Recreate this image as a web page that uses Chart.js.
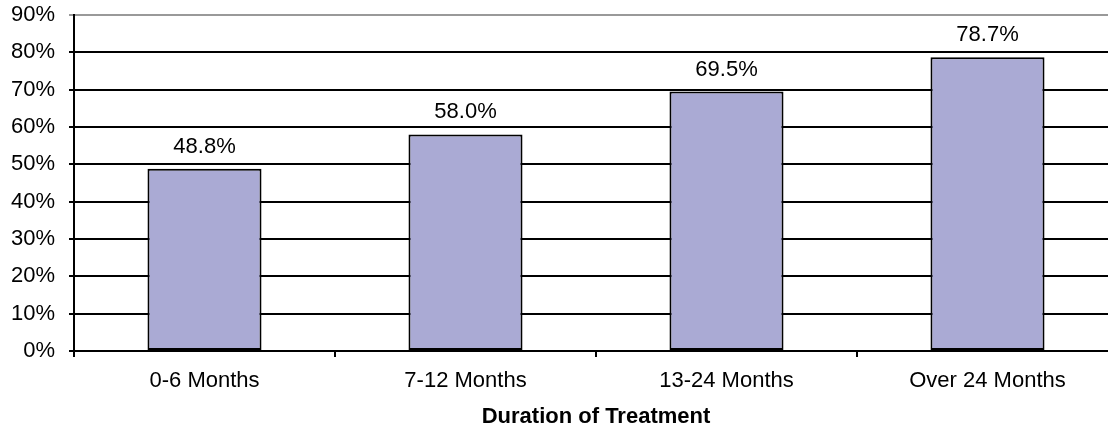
<!DOCTYPE html>
<html>
<head>
<meta charset="utf-8">
<script src="https://cdn.jsdelivr.net/npm/chart.js@4"></script>
<style>
  body { margin: 0; background: #fff; overflow: hidden; }
  /* plot runs a little past the right edge of the window, like the reference */
  #wrap { width: 1120px; height: 430px; position: relative; }
</style>
</head>
<body>
<div id="wrap"><canvas id="durationChart"></canvas></div>
<script>
// values
const categories = ['0-6 Months', '7-12 Months', '13-24 Months', 'Over 24 Months'];
const percentValues = [48.8, 58.0, 69.5, 78.7];
const yTicks = [0, 10, 20, 30, 40, 50, 60, 70, 80, 90];

const FONT = "'Liberation Sans', Arial, sans-serif";

// draw the % value above each bar
const valueLabels = {
  id: 'valueLabels',
  afterDatasetsDraw(chart) {
    const ctx = chart.ctx;
    const meta = chart.getDatasetMeta(0);
    ctx.save();
    ctx.font = '22px ' + FONT;
    ctx.fillStyle = '#000';
    ctx.textAlign = 'center';
    ctx.textBaseline = 'alphabetic';
    meta.data.forEach((bar, i) => {
      ctx.fillText(percentValues[i].toFixed(1) + '%', bar.x, bar.y - 16);
    });
    ctx.restore();
  }
};

new Chart(document.getElementById('durationChart'), {
  type: 'bar',
  data: {
    labels: categories,
    datasets: [{
      data: percentValues,
      backgroundColor: '#aaaad4',
      borderColor: '#000',
      borderWidth: 2,
      borderSkipped: false,
      categoryPercentage: 1,
      barPercentage: 0.437
    }]
  },
  options: {
    responsive: true,
    maintainAspectRatio: false,
    animation: false,
    layout: { padding: { top: 15, right: 2, left: 0, bottom: 0 } },
    plugins: {
      legend: { display: false },
      tooltip: { enabled: false }
    },
    scales: {
      x: {
        grid: {
          offset: true,
          drawOnChartArea: false,
          drawTicks: true,
          tickLength: 6,
          color: '#000',
          lineWidth: 2
        },
        border: { color: '#000', width: 2 },
        ticks: {
          color: '#000',
          font: { family: FONT, size: 22 },
          padding: 11
        },
        title: {
          display: true,
          text: 'Duration of Treatment',
          color: '#000',
          font: { family: FONT, size: 22, weight: 'bold' },
          padding: { top: 4, bottom: 0 }
        },
        afterFit(scale) { scale.height = 79; }
      },
      y: {
        min: 0,
        max: 90,
        afterBuildTicks(scale) {
          scale.ticks = yTicks.map(v => ({ value: v }));
        },
        grid: {
          color: c => (c.tick && c.tick.value === 90 ? '#999' : '#000'),
          lineWidth: 2,
          tickLength: 5
        },
        border: { color: '#000', width: 2 },
        ticks: {
          color: '#000',
          font: { family: FONT, size: 22 },
          padding: 14,
          callback: v => v + '%'
        },
        afterFit(scale) {
          scale.width = 74;
          scale.paddingTop = 0;
          scale.paddingBottom = 0;
        }
      }
    }
  },
  plugins: [valueLabels]
});
</script>
</body>
</html>
